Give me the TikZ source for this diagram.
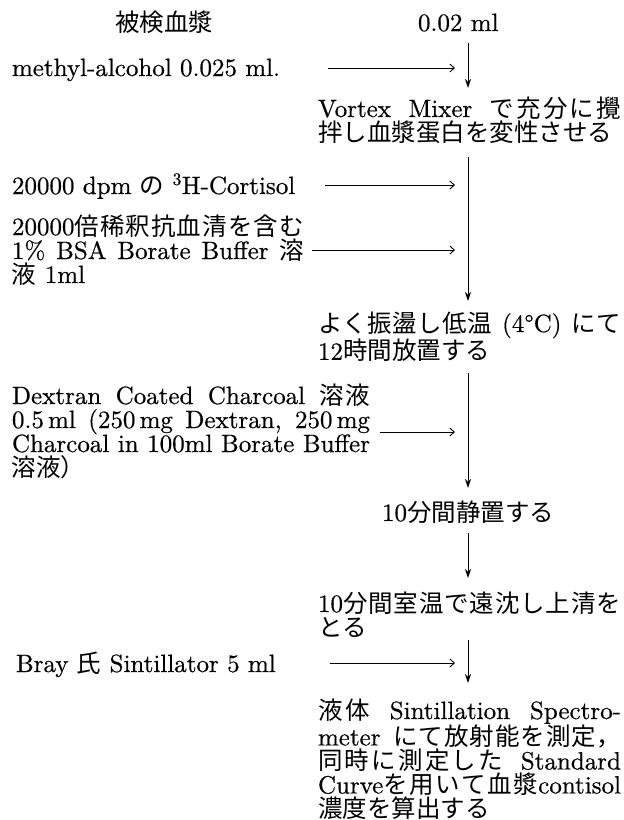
\documentclass[tikz,border=0pt]{standalone}
\usepackage{fontspec}
\setmainfont{lmroman10-regular.otf}[RawFeature={embolden=0.5}]
\newfontfamily\cjk{Noto Sans CJK JP}[Scale=0.98]
\usetikzlibrary{arrows.meta}
\XeTeXlinebreaklocale "ja"
\XeTeXlinebreakskip=0pt plus 1pt
\newcommand{\J}[1]{{\cjk #1}}
\begin{document}
\begin{tikzpicture}[x=1pt,y=-1pt,
  every node/.style={inner sep=0pt,outer sep=0pt},
  txt/.style={anchor=base west,font=\fontsize{25}{24}\selectfont},
  varr/.style={line width=0.9pt,-{Stealth[length=9pt,width=6pt]}},
  harr/.style={line width=0.9pt,-{Straight Barb[length=4.5pt,width=8pt]}}]
\useasboundingbox (0,0) rectangle (624,820);

% texts
\node[txt] (plasma) at (115,31) {\J{被検血漿}};
\node[txt] (vol) at (418,31) {0.02 ml};
\node[txt] (meth) at (12,76) {methyl-alcohol 0.025 ml.};
\node[txt] (vortex) at (318,117) {\parbox[t]{303pt}{Vortex Mixer \J{で充分に攪}\linebreak\J{拌し血漿蛋白を変性させる}}};
\node[txt] (cort) at (12,194) {20000 dpm \J{の} \textsuperscript{3}H-Cortisol};
\node[txt] (bsa) at (12,235) {\parbox[t]{292pt}{20000\J{倍稀釈抗血清を含む}\linebreak 1\% BSA Borate Buffer \J{溶}\linebreak\J{液} 1ml}};
\node[txt] (cold) at (318,332) {\parbox[t]{303pt}{\J{よく振盪し低温} (4°C) \J{にて}\linebreak 12\J{時間放置する}}};
\node[txt] (dex) at (12,404) {\parbox[t]{358pt}{Dextran Coated Charcoal \J{溶液}\linebreak 0.5\,ml (250\,mg Dextran, 250\,mg\linebreak Charcoal in 100ml Borate Buffer\linebreak\J{溶液）}}};
\node[txt,anchor=base] (stand) at (468,521) {10\J{分間静置する}};
\node[txt] (cent) at (318,612) {\parbox[t]{303pt}{10\J{分間室温で遠沈し上清を}\linebreak\J{とる}}};
\node[txt] (bray) at (16,672) {Bray \J{氏} Sintillator 5 ml};
\node[txt] (meas) at (318,719) {\parbox[t]{303pt}{\J{液体} Sintillation Spectro-\linebreak meter \J{にて放射能を測定，}\linebreak\J{同時に測定した} Standard\linebreak Curve\J{を用いて血漿}contisol\linebreak\J{濃度を算出する}}};

% axis points
\coordinate (v1a) at (468,43);  \coordinate (v1b) at (468,88);
\coordinate (v2a) at (468,157); \coordinate (v2b) at (468,301);
\coordinate (v3a) at (468,373); \coordinate (v3b) at (468,488);
\coordinate (v4a) at (468,533); \coordinate (v4b) at (468,578);
\coordinate (v5a) at (468,640); \coordinate (v5b) at (468,683);
\draw[varr] (v1a) -- (v1b);
\draw[varr] (v2a) -- (v2b);
\draw[varr] (v3a) -- (v3b);
\draw[varr] (v4a) -- (v4b);
\draw[varr] (v5a) -- (v5b);

% side inputs
\coordinate (h1a) at (328,68);  \coordinate (h1b) at (455,68);
\coordinate (h2a) at (325,185); \coordinate (h2b) at (455,185);
\coordinate (h3a) at (312,250); \coordinate (h3b) at (455,250);
\coordinate (h4a) at (380,432); \coordinate (h4b) at (455,432);
\coordinate (h5a) at (330,663); \coordinate (h5b) at (455,663);
\draw[harr] (h1a) -- (h1b);
\draw[harr] (h2a) -- (h2b);
\draw[harr] (h3a) -- (h3b);
\draw[harr] (h4a) -- (h4b);
\draw[harr] (h5a) -- (h5b);
\end{tikzpicture}
\end{document}
